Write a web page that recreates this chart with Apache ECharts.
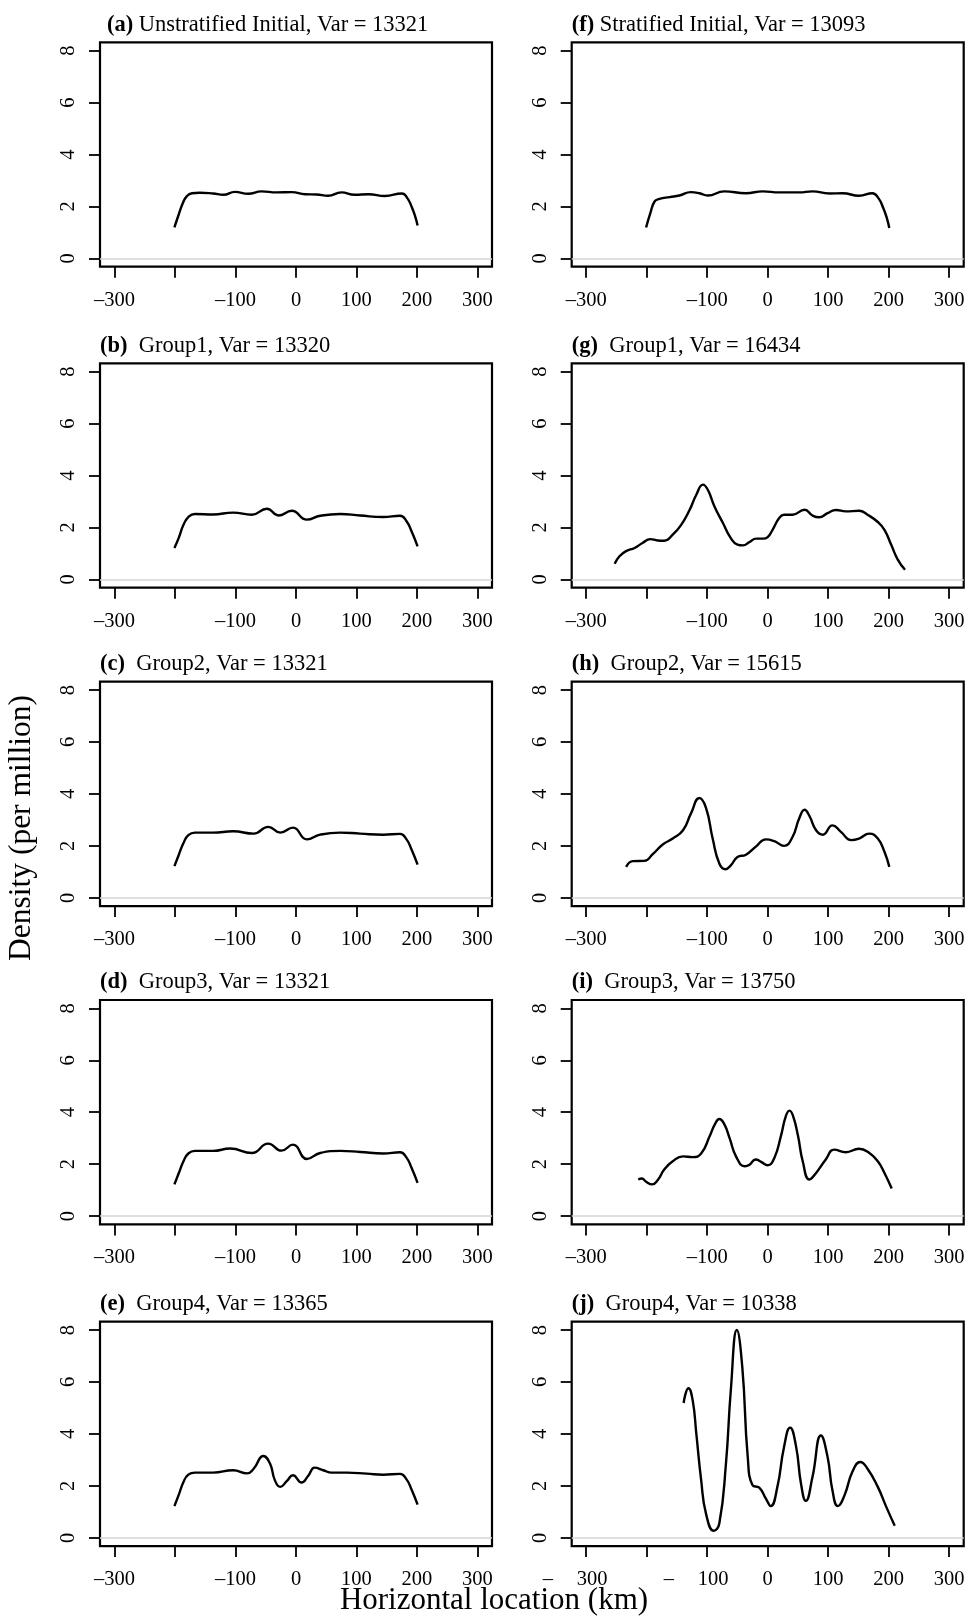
<!DOCTYPE html>
<html>
<head>
<meta charset="utf-8">
<script src="https://cdn.jsdelivr.net/npm/echarts@6/dist/echarts.min.js"></script>
<style>
  html, body { margin: 0; padding: 0; background: #fff; }
  body { position: relative; width: 969px; height: 1623px; overflow: hidden; }
  #main { position: absolute; left: 0; top: 0; width: 969px; height: 1623px; }
  .panel { position: absolute; }
</style>
</head>
<body>
<div id="main"></div>
<script>
// panel titles
var titles = [
  '{b|(a)} Unstratified Initial, Var = 13321',
  '{b|(b)}  Group1, Var = 13320',
  '{b|(c)}  Group2, Var = 13321',
  '{b|(d)}  Group3, Var = 13321',
  '{b|(e)}  Group4, Var = 13365',
  '{b|(f)} Stratified Initial, Var = 13093',
  '{b|(g)}  Group1, Var = 16434',
  '{b|(h)}  Group2, Var = 15615',
  '{b|(i)}  Group3, Var = 13750',
  '{b|(j)}  Group4, Var = 10338'
];

// tick values
var xTicks = [-300, -200, -100, 0, 100, 200, 300];
var xLabels = [-300, -100, 0, 100, 200, 300];
var yTicks = [0, 2, 4, 6, 8];

// density curves (per million), x in km
var xa = [-201,-194,-187,-181,-172,-159,-137,-120,-101,-79,-57,-32,-7,15,34,53,75,97,120,147,175,184,191,197,201];
var ya = [1.19,1.68,2.13,2.38,2.51,2.53,2.50,2.45,2.56,2.49,2.58,2.54,2.55,2.47,2.46,2.41,2.54,2.45,2.47,2.40,2.50,2.32,2.00,1.62,1.27];

var xb = [-201,-194,-186,-178,-167,-137,-104,-73,-48,-29,-7,18,40,73,106,144,172,183,191,201];
var yb = [1.21,1.59,2.10,2.40,2.52,2.50,2.57,2.49,2.72,2.46,2.64,2.30,2.45,2.52,2.46,2.40,2.45,2.23,1.85,1.27];

var xc = [-201,-194,-186,-178,-167,-137,-104,-70,-46,-26,-5,18,40,73,106,144,172,183,191,201];
var yc = [1.22,1.64,2.11,2.41,2.51,2.51,2.56,2.47,2.73,2.51,2.70,2.25,2.43,2.51,2.47,2.43,2.46,2.24,1.86,1.28];

var xd = [-201,-194,-186,-178,-167,-137,-109,-73,-46,-24,-5,18,40,73,106,144,172,183,191,201];
var yd = [1.22,1.64,2.11,2.41,2.51,2.51,2.60,2.43,2.79,2.52,2.75,2.20,2.43,2.51,2.47,2.41,2.46,2.24,1.86,1.28];

var xe = [-201,-194,-186,-178,-167,-137,-104,-81,-70,-54,-43,-35,-26,-15,-5,9,20,31,45,59,84,117,144,172,183,191,201];
var ye = [1.22,1.64,2.15,2.43,2.51,2.51,2.60,2.48,2.66,3.15,2.86,2.22,1.96,2.19,2.41,2.13,2.38,2.70,2.60,2.51,2.51,2.47,2.43,2.46,2.24,1.86,1.28];

var xf = [-201,-194,-187,-179,-162,-146,-127,-113,-99,-72,-36,-8,19,52,74,102,124,151,173,183,191,197,201];
var yf = [1.19,1.74,2.19,2.29,2.36,2.42,2.55,2.51,2.42,2.58,2.51,2.58,2.54,2.54,2.58,2.50,2.51,2.41,2.51,2.32,1.94,1.55,1.17];

var xg = [-253,-245,-234,-220,-207,-194,-182,-171,-157,-143,-129,-118,-107,-99,-88,-74,-61,-50,-41,-30,-19,-8,0,8,19,27,41,61,74,85,99,113,129,151,165,182,193,204,215,227];
var yg = [0.60,0.89,1.09,1.21,1.40,1.55,1.50,1.49,1.72,2.10,2.68,3.26,3.65,3.45,2.81,2.17,1.59,1.34,1.31,1.44,1.57,1.57,1.63,1.91,2.36,2.49,2.49,2.68,2.46,2.39,2.55,2.67,2.62,2.64,2.49,2.21,1.91,1.34,0.76,0.37];

var xh = [-234,-223,-204,-190,-173,-157,-140,-127,-113,-102,-91,-80,-70,-61,-50,-36,-19,-3,11,27,41,52,61,69,80,91,107,121,138,151,168,182,193,201];
var yh = [1.19,1.41,1.42,1.68,2.06,2.28,2.60,3.24,3.84,3.46,2.28,1.32,1.10,1.25,1.57,1.66,1.98,2.25,2.18,2.00,2.34,3.05,3.39,3.15,2.60,2.43,2.79,2.54,2.22,2.28,2.47,2.28,1.77,1.19];

var xi = [-214,-208,-201,-191,-182,-171,-157,-140,-124,-110,-96,-87,-80,-72,-63,-52,-38,-30,-20,-11,0,11,22,30,36,42,50,58,69,80,96,110,129,151,168,182,193,205];
var yi = [1.41,1.45,1.32,1.22,1.38,1.79,2.11,2.30,2.27,2.41,3.07,3.55,3.74,3.55,3.00,2.28,1.92,1.98,2.18,2.09,1.96,2.24,3.10,3.85,4.06,3.85,3.10,2.10,1.41,1.66,2.18,2.56,2.46,2.59,2.43,2.11,1.66,1.06];

var xj = [-139,-131,-124,-118,-110,-102,-89,-80,-69,-61,-51,-42,-33,-25,-14,-3,5,16,27,37,47,55,63,74,88,99,107,116,127,140,153,165,182,196,210];
var yj = [5.19,5.76,5.29,4.01,2.22,0.93,0.27,0.55,2.86,5.67,8.00,6.57,3.11,2.02,1.93,1.51,1.22,1.96,3.50,4.24,3.50,2.09,1.42,2.34,3.94,3.11,1.83,1.22,1.64,2.54,2.92,2.66,1.96,1.19,0.46];

var curves = [[xa, ya], [xb, yb], [xc, yc], [xd, yd], [xe, ye],
              [xf, yf], [xg, yg], [xh, yh], [xi, yi], [xj, yj]];

var FONT = '"Liberation Serif", "DejaVu Serif", serif';
var colLeft = [100, 571.7];
var rowTop = [42.3, 363.3, 681.7, 1000, 1321.7];
var gridW = 392, gridH = 224.4;

function zip(xs, ys) {
  return xs.map(function (x, k) { return [x, ys[k]]; });
}

function plainLabel(v) {
  return v < 0 ? '\u2013' + (-v) : String(v);
}
// panel (j) prints its negative labels with a detached minus
function splitLabel(v) {
  return v < 0 ? '{m|\u2013}{n|' + (-v) + '}{s| }' : String(v);
}
function spaceLabel(v) {
  return v < 0 ? '\u2013    ' + (-v) + '    ' : String(v);
}

// one chart per panel, each with a single grid
function panelOption(i, gl, gt, mode) {
  var xLabel = {
    customValues: xLabels.slice(), margin: 23,
    fontFamily: FONT, fontSize: 20.5, color: '#000'
  };
  if (mode <= 1) {
    xLabel.formatter = i === 9 ? (mode === 0 ? splitLabel : spaceLabel) : plainLabel;
  }
  if (mode === 0) {
    xLabel.rich = {
      m: { fontFamily: FONT, fontSize: 20.5, color: '#000', width: 34, align: 'left' },
      n: { fontFamily: FONT, fontSize: 20.5, color: '#000' },
      s: { fontFamily: FONT, fontSize: 20.5, color: '#000', width: 22 }
    };
  }
  var s = {
    type: 'line',
    data: zip(curves[i][0], curves[i][1]),
    symbol: 'none',
    smooth: 0.5,
    lineStyle: { color: '#000', width: 2.4 }
  };
  if (mode <= 2) {
    s.markLine = {
      silent: true, symbol: ['none', 'none'], animation: false,
      label: { show: false },
      lineStyle: { color: '#d4d4d4', width: 1.5, type: 'solid' },
      data: [{ yAxis: 0 }]
    };
  }
  return {
    animation: false,
    grid: [{ left: gl, top: gt, width: gridW, height: gridH, show: true, borderColor: '#000', borderWidth: 2.2 }],
    xAxis: [{
      gridIndex: 0, type: 'value', min: -324, max: 324,
      axisLine: { show: false, onZero: false },
      splitLine: { show: false },
      axisTick: { show: true, length: 11, customValues: xTicks.slice(), lineStyle: { color: '#000', width: 1.8 } },
      axisLabel: xLabel
    }],
    yAxis: [{
      gridIndex: 0, type: 'value', min: -0.32, max: 8.32,
      axisLine: { show: false, onZero: false },
      splitLine: { show: false },
      axisTick: { show: true, length: 11, customValues: yTicks.slice(), lineStyle: { color: '#000', width: 1.8 } },
      axisLabel: { customValues: yTicks.slice(), rotate: 90, margin: 21, fontFamily: FONT, fontSize: 20.5, color: '#000' }
    }],
    series: [s]
  };
}

function countXTicks(chart, bottom) {
  var n = 0;
  chart.getZr().storage.getDisplayList(true).forEach(function (el) {
    if (el.type !== 'line' || el.ignore || el.invisible || !el.shape) return;
    var sh = el.shape;
    if (Math.abs(sh.x1 - sh.x2) < 1 &&
        Math.abs(Math.abs(sh.y2 - sh.y1) - 11) < 1.5 &&
        Math.abs(Math.min(sh.y1, sh.y2) - bottom) < 3) n++;
  });
  return n;
}

(function () {
  // titles and axis names on a full-page layer
  var titleList = [];
  for (var i = 0; i < 10; i++) {
    var gx = colLeft[i < 5 ? 0 : 1], gy = rowTop[i % 5];
    titleList.push({
      text: titles[i],
      left: i === 0 ? 107 : gx,
      top: gy - 29,
      padding: 0,
      textStyle: {
        fontFamily: FONT, fontSize: 22.5, fontWeight: 'normal', color: '#000',
        rich: { b: { fontFamily: FONT, fontSize: 22.5, fontWeight: 'bold', color: '#000' } }
      }
    });
  }
  var bg = echarts.init(document.getElementById('main'));
  bg.setOption({
    animation: false,
    title: titleList,
    graphic: [
      {
        type: 'text', x: 22, y: 828, rotation: Math.PI / 2,
        style: {
          text: 'Density (per million)', fontFamily: FONT, fontSize: 31.5,
          fill: '#000', textAlign: 'center', textVerticalAlign: 'middle'
        }
      },
      {
        type: 'text', x: 494, y: 1601,
        style: {
          text: 'Horizontal location (km)', fontFamily: FONT, fontSize: 31,
          fill: '#000', textAlign: 'center', textVerticalAlign: 'middle'
        }
      }
    ]
  });

  // the ten panels
  for (var p = 0; p < 10; p++) {
    var px = colLeft[p < 5 ? 0 : 1], py = rowTop[p % 5];
    var divLeft = Math.round(px - 100), divTop = Math.round(py - 42);
    var div = document.createElement('div');
    div.className = 'panel';
    div.style.left = divLeft + 'px';
    div.style.top = divTop + 'px';
    div.style.width = '497px';
    div.style.height = '322px';
    document.body.appendChild(div);
    var chart = echarts.init(div);
    var gl = px - divLeft, gt = py - divTop;
    for (var mode = 0; mode < 4; mode++) {
      chart.setOption(panelOption(p, gl, gt, mode), true);
      if (countXTicks(chart, gt + gridH) >= 5) break;
    }
  }
})();
</script>
</body>
</html>
